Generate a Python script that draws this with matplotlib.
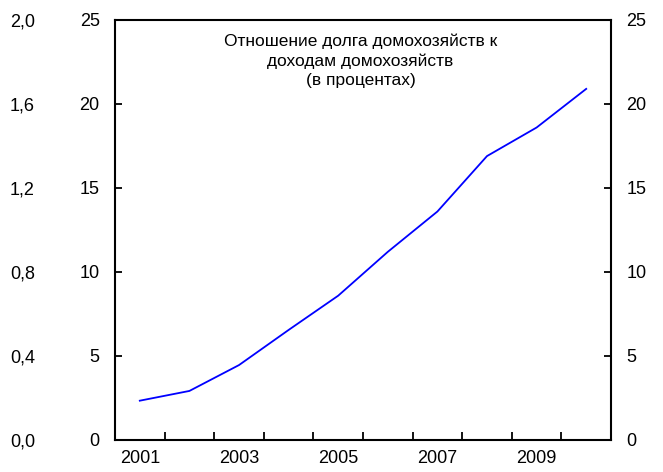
import matplotlib
matplotlib.use("Agg")

import matplotlib.pyplot as plt
from matplotlib.ticker import FixedLocator, FuncFormatter

plt.rcParams["font.family"] = ["Liberation Sans", "DejaVu Sans"]

# data
years = [2001, 2002, 2003, 2004, 2005, 2006, 2007, 2008, 2009, 2010]
debt_to_income = [2.34, 2.92, 4.46, 6.55, 8.59, 11.2, 13.6, 16.9, 18.6, 20.9]

left_ticks = [0, 5, 10, 15, 20, 25]
outer_ticks = [0.0, 0.4, 0.8, 1.2, 1.6, 2.0]
title = "Отношение долга домохозяйств к\nдоходам домохозяйств\n(в процентах)"


fig = plt.figure(figsize=(6.63, 4.72), dpi=100)
ax = fig.add_axes([115 / 663, 1 - 440 / 472, 496 / 663, 420 / 472])

x = list(range(len(years)))
ax.plot(x, debt_to_income, color="#0000FF", linewidth=1.3)

ax.set_xlim(-0.5, len(years) - 0.5)
ax.set_ylim(0, 25)

for sp in ax.spines.values():
    sp.set_linewidth(1.5)
    sp.set_color("black")

# x axis: labels on odd years, ticks between categories
ax.xaxis.set_major_locator(FixedLocator(x[::2]))
ax.set_xticklabels([str(y) for y in years[::2]])
ax.xaxis.set_minor_locator(FixedLocator([i + 0.5 for i in x[:-1]]))
ax.tick_params(axis="x", which="major", length=0, pad=7, labelsize=13)
ax.tick_params(axis="x", which="minor", direction="in", length=6, width=1.3)

# y axes left and right
ax.set_yticks(left_ticks)
ax.tick_params(axis="y", direction="in", length=5, width=1.3, pad=11,
               labelsize=13, right=True, labelright=True)

# outer left scale
sec = ax.secondary_yaxis(-80 / 496, functions=(lambda v: v * 0.08, lambda v: v / 0.08))
sec.spines["left"].set_visible(False)
sec.set_yticks(outer_ticks)
sec.yaxis.set_major_formatter(FuncFormatter(lambda v, p: f"{v:.1f}".replace(".", ",")))
sec.tick_params(axis="y", length=0, pad=0, labelsize=13)

ax.text(0.495, 0.968, title, transform=ax.transAxes, ha="center", va="top",
        fontsize=12.5, linespacing=1.35)

fig.savefig("out.png", dpi=100)
